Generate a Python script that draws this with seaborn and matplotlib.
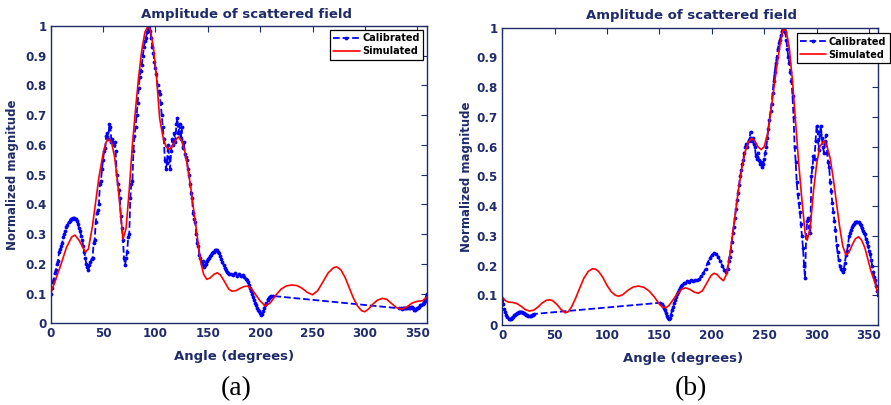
import matplotlib
matplotlib.use('Agg')
import matplotlib.pyplot as plt
import seaborn as sns
import pandas as pd

# ---------------- data ----------------
a_cal_angle = [0, 1, 2, 3, 4, 5, 6, 7, 8, 9, 10, 11, 12, 13, 14, 15, 16, 17, 18, 19, 20, 21, 22, 23, 24, 25, 26, 27, 28, 29,
               30, 31, 32, 33, 34, 35, 36, 37, 38, 39, 40, 41, 42, 43, 44, 45, 46, 47, 48, 49, 50, 51, 52, 53, 54, 55, 56, 57, 58, 59,
               60, 61, 62, 63, 64, 65, 66, 67, 68, 69, 70, 71, 72, 73, 74, 75, 76, 77, 78, 79, 80, 81, 82, 83, 84, 85, 86, 87, 88, 89,
               90, 91, 92, 93, 94, 95, 96, 97, 98, 99, 100, 101, 102, 103, 104, 105, 106, 107, 108, 109, 110, 111, 112, 113, 114, 115,
               116, 117, 118, 119, 120, 121, 122, 123, 124, 125, 126, 127, 128, 129, 130, 131, 132, 133, 134, 135, 136, 137, 138, 139,
               140, 141, 142, 143, 144, 145, 146, 147, 148, 149, 150, 151, 152, 153, 154, 155, 156, 157, 158, 159, 160, 161, 162, 163,
               164, 165, 166, 167, 168, 169, 170, 172, 174, 176, 178, 180, 182, 184, 185, 186, 187, 188, 189, 190, 191, 192, 193, 194,
               195, 196, 197, 198, 199, 200, 201, 202, 203, 204, 205, 206, 207, 208, 209, 210, 212,
               333, 334, 335, 336, 337, 338, 339, 340, 341, 342, 343, 344, 345, 346, 347, 348, 349, 350, 351, 352, 353, 354, 355, 356,
               357, 358, 359]
a_cal_value = [0.10, 0.12, 0.14, 0.15, 0.17, 0.18, 0.20, 0.21, 0.24, 0.25, 0.26, 0.27, 0.29, 0.30, 0.31, 0.325, 0.33, 0.34, 0.345, 0.35,
               0.352, 0.355, 0.354, 0.352, 0.35, 0.345, 0.335, 0.32, 0.31, 0.295, 0.28, 0.26, 0.24, 0.22, 0.20, 0.19, 0.18, 0.195, 0.205, 0.215,
               0.22, 0.27, 0.28, 0.34, 0.37, 0.38, 0.40, 0.47, 0.48, 0.52, 0.55, 0.58, 0.59, 0.63, 0.64, 0.62, 0.67, 0.66, 0.61, 0.62,
               0.60, 0.61, 0.58, 0.50, 0.47, 0.45, 0.42, 0.36, 0.32, 0.28, 0.22, 0.195, 0.22, 0.24, 0.29, 0.30, 0.42, 0.47, 0.48, 0.58,
               0.63, 0.66, 0.70, 0.74, 0.79, 0.83, 0.85, 0.87, 0.90, 0.93, 0.95, 0.96, 0.98, 0.99, 1.00, 0.985, 0.96, 0.93, 0.91, 0.88,
               0.86, 0.84, 0.80, 0.78, 0.77, 0.74, 0.70, 0.66, 0.62, 0.55, 0.52, 0.54, 0.60, 0.56, 0.52, 0.58, 0.62, 0.60, 0.64, 0.61,
               0.67, 0.69, 0.64, 0.67, 0.62, 0.66, 0.59, 0.61, 0.57, 0.56, 0.55, 0.52, 0.50, 0.47, 0.44, 0.42, 0.37, 0.35, 0.34, 0.30,
               0.27, 0.26, 0.23, 0.22, 0.20, 0.21, 0.19, 0.195, 0.20, 0.21, 0.215, 0.22, 0.225, 0.23, 0.235, 0.24, 0.24, 0.245, 0.247, 0.245,
               0.24, 0.235, 0.225, 0.215, 0.205, 0.195, 0.185, 0.178, 0.172, 0.168, 0.166, 0.165, 0.162, 0.168, 0.160, 0.165, 0.160, 0.163,
               0.155, 0.150, 0.145, 0.14, 0.13, 0.12, 0.11, 0.10, 0.09, 0.08, 0.07, 0.06, 0.05, 0.045, 0.04, 0.035, 0.028, 0.032, 0.04,
               0.05, 0.06, 0.07, 0.08, 0.085, 0.09, 0.092, 0.092,
               0.05, 0.05, 0.048, 0.05, 0.052, 0.05, 0.05, 0.052, 0.055, 0.05, 0.052, 0.055, 0.054, 0.05, 0.045, 0.044, 0.048, 0.05,
               0.052, 0.055, 0.06, 0.06, 0.065, 0.07, 0.075, 0.085, 0.10]

a_sim_angle = [0, 5, 10, 15, 20, 23, 27, 30, 33, 36, 40, 43, 46, 50, 53, 55, 58, 61, 64, 67, 69, 72, 75, 78, 81, 84, 87, 90, 93,
               95, 98, 101, 104, 107, 110, 113, 116, 119, 122, 125, 128, 131, 134, 137, 140, 143, 146, 149, 152, 156, 159, 162, 166,
               170, 173, 177, 181, 185, 188, 192, 196, 200, 205, 210, 215, 220, 225, 230, 235, 240, 245, 250, 255, 260, 265, 270, 273,
               277, 281, 285, 289, 293, 297, 300, 304, 308, 312, 317, 321, 325, 330, 335, 340, 345, 350, 355, 359]
a_sim_value = [0.10, 0.15, 0.20, 0.255, 0.29, 0.297, 0.28, 0.26, 0.24, 0.25, 0.33, 0.41, 0.49, 0.57, 0.61, 0.62, 0.61, 0.56, 0.47,
               0.36, 0.283, 0.32, 0.45, 0.60, 0.72, 0.83, 0.92, 0.98, 1.00, 0.99, 0.93, 0.83, 0.69, 0.63, 0.595, 0.585, 0.595, 0.615,
               0.627, 0.615, 0.58, 0.52, 0.45, 0.37, 0.29, 0.21, 0.165, 0.148, 0.152, 0.165, 0.170, 0.163, 0.14, 0.115, 0.108, 0.11,
               0.118, 0.124, 0.125, 0.115, 0.095, 0.075, 0.058, 0.07, 0.095, 0.115, 0.126, 0.129, 0.127, 0.118, 0.104, 0.096, 0.11,
               0.14, 0.17, 0.187, 0.19, 0.18, 0.155, 0.12, 0.085, 0.058, 0.042, 0.039, 0.05, 0.066, 0.078, 0.084, 0.08, 0.068, 0.053,
               0.047, 0.055, 0.068, 0.074, 0.076, 0.088]

b_cal_angle = [0, 1, 2, 3, 4, 5, 6, 7, 8, 9, 10, 11, 12, 13, 14, 15, 16, 17, 18, 19, 20, 21, 22, 23, 24, 25, 26, 27, 28, 29, 30,
               151, 152, 153, 154, 155, 156, 157, 158, 159, 160, 161, 162, 163, 164, 165, 166, 167, 168, 169, 170, 171, 172, 173, 174,
               176, 178, 180, 182, 184, 186, 188, 190, 192, 194, 196, 198, 200, 202, 204, 206, 208, 210, 212, 214, 215, 216, 217, 218,
               219, 220, 221, 222, 223, 224, 225, 226, 227, 228, 229, 230, 231, 232, 233, 234, 235, 236, 237, 238, 239, 240, 241, 242,
               243, 244, 245, 246, 247, 248, 249, 250, 251, 252, 253, 254, 255, 256, 257, 258, 259, 260, 261, 262, 263, 264, 265, 266,
               267, 268, 269, 270, 271, 272, 273, 274, 275, 276, 277, 278, 279, 280, 281, 282, 283, 284, 285, 286, 287, 288, 289, 290,
               291, 292, 293, 294, 295, 296, 297, 298, 299, 300, 301, 302, 303, 304, 305, 306, 307, 308, 309, 310, 311, 312, 313, 314,
               315, 316, 317, 318, 319, 320, 321, 322, 323, 324, 325, 326, 327, 328, 329, 330, 331, 332, 333, 334, 335, 336, 337, 338,
               339, 340, 341, 342, 343, 344, 345, 346, 347, 348, 349, 350, 351, 352, 353, 354, 355, 356, 357, 358, 359]
b_cal_value = [0.085, 0.07, 0.055, 0.045, 0.035, 0.027, 0.021, 0.019, 0.02, 0.025, 0.028, 0.032, 0.034, 0.036, 0.04, 0.042, 0.044,
               0.045, 0.044, 0.043, 0.041, 0.04, 0.038, 0.035, 0.032, 0.030, 0.029, 0.03, 0.033, 0.035, 0.037,
               0.075, 0.07, 0.065, 0.058, 0.05, 0.04, 0.03, 0.022, 0.02, 0.025, 0.035, 0.05, 0.062, 0.075, 0.085, 0.095, 0.103, 0.11,
               0.118, 0.125, 0.13, 0.135, 0.14, 0.143, 0.148, 0.145, 0.15, 0.148, 0.152, 0.15, 0.155, 0.165, 0.175, 0.19, 0.21, 0.225,
               0.235, 0.242, 0.24, 0.23, 0.215, 0.20, 0.185, 0.18, 0.19, 0.215, 0.23, 0.25, 0.28, 0.31, 0.33, 0.36, 0.39, 0.42, 0.445,
               0.47, 0.50, 0.52, 0.54, 0.555, 0.58, 0.60, 0.61, 0.60, 0.62, 0.63, 0.65, 0.62, 0.63, 0.61, 0.60, 0.57, 0.56, 0.58, 0.555,
               0.54, 0.55, 0.53, 0.54, 0.56, 0.58, 0.60, 0.63, 0.66, 0.69, 0.72, 0.745, 0.78, 0.82, 0.85, 0.88, 0.90, 0.93, 0.95, 0.96,
               0.975, 0.99, 1.00, 0.995, 0.985, 0.96, 0.93, 0.90, 0.88, 0.85, 0.82, 0.77, 0.70, 0.60, 0.55, 0.48, 0.44, 0.41, 0.38, 0.34,
               0.30, 0.26, 0.20, 0.157, 0.30, 0.35, 0.36, 0.33, 0.31, 0.50, 0.53, 0.57, 0.56, 0.62, 0.67, 0.65, 0.59, 0.64, 0.67, 0.63,
               0.60, 0.58, 0.62, 0.64, 0.58, 0.55, 0.53, 0.48, 0.45, 0.41, 0.38, 0.35, 0.32, 0.27, 0.245, 0.22, 0.20, 0.19, 0.185, 0.179,
               0.19, 0.21, 0.235, 0.25, 0.27, 0.30, 0.31, 0.32, 0.33, 0.335, 0.34, 0.345, 0.348, 0.348, 0.345, 0.34, 0.335, 0.325, 0.315,
               0.31, 0.305, 0.29, 0.28, 0.265, 0.25, 0.24, 0.22, 0.20, 0.18, 0.162, 0.15, 0.13, 0.115, 0.10]

b_sim_angle = [0, 3, 6, 10, 14, 18, 22, 26, 30, 34, 38, 42, 45, 48, 52, 56, 60, 63, 66, 70, 74, 78, 82, 86, 89, 92, 96, 100, 104,
               108, 111, 115, 120, 125, 130, 135, 140, 145, 150, 153, 156, 159, 163, 167, 171, 175, 179, 183, 187, 191, 195, 199,
               202, 205, 208, 211, 214, 217, 220, 223, 226, 229, 232, 235, 238, 241, 244, 247, 250, 253, 256, 259, 262, 265, 268,
               271, 274, 277, 280, 283, 286, 289, 291, 294, 297, 300, 303, 307, 310, 313, 316, 319, 322, 325, 328, 331, 334, 337,
               340, 343, 346, 349, 352, 355, 359]
b_sim_value = [0.095, 0.082, 0.077, 0.076, 0.072, 0.063, 0.052, 0.047, 0.050, 0.060, 0.074, 0.083, 0.085, 0.082, 0.070, 0.053,
               0.041, 0.045, 0.06, 0.09, 0.125, 0.158, 0.180, 0.189, 0.188, 0.180, 0.160, 0.133, 0.112, 0.100, 0.097, 0.102, 0.117,
               0.128, 0.131, 0.127, 0.115, 0.095, 0.070, 0.060, 0.058, 0.065, 0.085, 0.105, 0.120, 0.125, 0.120, 0.111, 0.107, 0.115,
               0.140, 0.165, 0.174, 0.170, 0.158, 0.149, 0.170, 0.230, 0.31, 0.39, 0.47, 0.535, 0.585, 0.615, 0.628, 0.62, 0.60, 0.59,
               0.60, 0.64, 0.71, 0.79, 0.87, 0.94, 0.995, 0.99, 0.93, 0.82, 0.68, 0.54, 0.42, 0.31, 0.285, 0.33, 0.45, 0.54, 0.60, 0.62,
               0.60, 0.56, 0.49, 0.41, 0.33, 0.265, 0.235, 0.245, 0.27, 0.29, 0.297, 0.285, 0.26, 0.22, 0.18, 0.15, 0.10]

x_ticks = [0, 50, 100, 150, 200, 250, 300, 350]
y_ticks = [0, 0.1, 0.2, 0.3, 0.4, 0.5, 0.6, 0.7, 0.8, 0.9, 1]
y_tick_labels = ['0', '0.1', '0.2', '0.3', '0.4', '0.5', '0.6', '0.7', '0.8', '0.9', '1']
title_text = 'Amplitude of scattered field'
x_label = 'Angle (degrees)'
y_label = 'Normalized magnitude'
series_names = ['Calibrated', 'Simulated']
panel_tags = ['(a)', '(b)']

# ---------------- style ----------------
NAVY = '#1f2b6a'
sns.set_theme(style='white')
plt.rcParams['font.family'] = ['DejaVu Sans']
plt.rcParams['font.weight'] = 'bold'
plt.rcParams['axes.labelweight'] = 'bold'
plt.rcParams['axes.titleweight'] = 'bold'

fig = plt.figure(figsize=(8.91, 4.05), dpi=100)
fig.patch.set_facecolor('white')
ax1 = fig.add_axes([0.0569, 0.2017, 0.422, 0.734])
ax2 = fig.add_axes([0.5637, 0.1975, 0.4222, 0.734])


def draw(ax, cal_x, cal_y, sim_x, sim_y, leg_loc, leg_anchor, title_x, xlabel_x, ylabel_x):
    cal = pd.DataFrame({'angle': cal_x, 'value': cal_y})
    sim = pd.DataFrame({'angle': sim_x, 'value': sim_y})
    sns.lineplot(data=cal, x='angle', y='value', ax=ax, color='#0000ff', linestyle='--',
                 marker='.', markersize=5.5, markeredgewidth=0, linewidth=1.3,
                 sort=False, estimator=None, label=series_names[0])
    sns.lineplot(data=sim, x='angle', y='value', ax=ax, color='#ff0000', linewidth=1.2,
                 sort=False, estimator=None, label=series_names[1])
    ax.set_xlim(0, 359)
    ax.set_ylim(0, 1)
    ax.set_xticks(x_ticks)
    ax.set_yticks(y_ticks)
    ax.set_yticklabels(y_tick_labels)
    ax.tick_params(direction='in', top=True, right=True, length=4, width=0.8,
                   colors=NAVY, labelsize=8.6, pad=3)
    for lab in ax.get_xticklabels() + ax.get_yticklabels():
        lab.set_fontweight('bold')
    for sp in ax.spines.values():
        sp.set_color(NAVY)
        sp.set_linewidth(1.0)
    ax.set_title(title_text, fontsize=9.5, fontweight='bold', color=NAVY, x=title_x, pad=6)
    ax.set_xlabel(x_label, fontsize=9.5, fontweight='bold', color=NAVY)
    ax.set_ylabel(y_label, fontsize=8.5, fontweight='bold', color=NAVY)
    ax.xaxis.set_label_coords(xlabel_x, -0.09)
    ax.yaxis.set_label_coords(ylabel_x, 0.5)
    leg = ax.legend(loc=leg_loc, bbox_to_anchor=leg_anchor, fontsize=7, frameon=True,
                    fancybox=False, framealpha=1, edgecolor='black', handlelength=2.7,
                    handletextpad=0.25, borderpad=0.35, labelspacing=0.3, borderaxespad=0)
    leg.get_frame().set_linewidth(0.9)
    for t in leg.get_texts():
        t.set_fontweight('bold')
        t.set_color('black')


draw(ax1, a_cal_angle, a_cal_value, a_sim_angle, a_sim_value,
     'upper right', (0.990, 0.9866), 0.521, 0.487, -0.084)
draw(ax2, b_cal_angle, b_cal_value, b_sim_angle, b_sim_value,
     'upper left', (0.7825, 0.981), 0.503, 0.481, -0.079)

fig.text(236 / 891, 1 - 389 / 405, panel_tags[0], ha='center', va='center',
         family='Liberation Serif', fontweight='normal', fontsize=20, color='black')
fig.text(691 / 891, 1 - 389 / 405, panel_tags[1], ha='center', va='center',
         family='Liberation Serif', fontweight='normal', fontsize=20, color='black')

fig.savefig('out.png', dpi=100, facecolor='white')
